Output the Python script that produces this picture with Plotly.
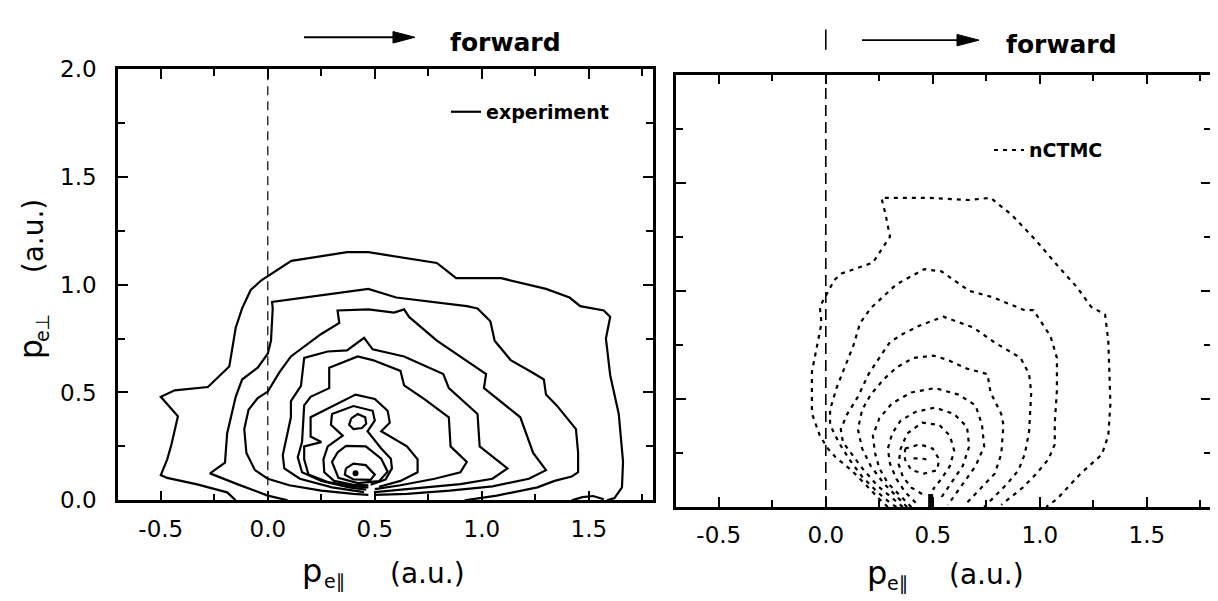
import plotly.graph_objects as go

# ---------------- axes / ticks ----------------
x_range = [-0.70, 1.80]
y_range = [0.0, 2.0]
x_tick_vals = [-0.5, 0.0, 0.5, 1.0, 1.5]
x_tick_text = ["-0.5", "0.0", "0.5", "1.0", "1.5"]
y_tick_vals = [0.0, 0.5, 1.0, 1.5, 2.0]
y_tick_text = ["0.0", "0.5", "1.0", "1.5", "2.0"]
forward_boundary = 0.0

# ---------------- experiment (left panel, solid contours) ----------------
exp_c1_x = [-0.15, -0.19, -0.33, -0.47, -0.50, -0.47, -0.45, -0.42, -0.50, -0.435, -0.28, -0.18, -0.15, -0.12,
            -0.08, -0.03, 0.11, 0.37, 0.47, 0.79, 0.88, 1.09, 1.30, 1.41, 1.46, 1.57, 1.60, 1.58, 1.60, 1.64,
            1.66, 1.655, 1.62, 1.585]
exp_c1_y = [0.0, 0.037, 0.074, 0.104, 0.117, 0.19, 0.26, 0.39, 0.48, 0.51, 0.525, 0.62, 0.80, 0.89,
            0.975, 1.02, 1.11, 1.15, 1.15, 1.10, 1.03, 1.03, 0.98, 0.94, 0.90, 0.88, 0.85, 0.75, 0.58, 0.40,
            0.18, 0.06, 0.01, 0.0]
exp_c2_x = [0.093, 0.0, -0.14, -0.27, -0.20, -0.19, -0.15, -0.12, -0.047, 0.0, 0.015, 0.023, 0.02, 0.35, 0.47,
            0.60, 0.83, 0.93, 0.98, 1.04, 1.06, 1.135, 1.24, 1.29, 1.30, 1.35, 1.44, 1.45, 1.45, 1.42,
            1.34, 1.26, 1.07, 0.92]
exp_c2_y = [0.0, 0.022, 0.074, 0.125, 0.175, 0.31, 0.48, 0.56, 0.615, 0.68, 0.74, 0.889, 0.92, 0.965, 0.98,
            0.94, 0.91, 0.90, 0.889, 0.83, 0.74, 0.65, 0.59, 0.56, 0.49, 0.44, 0.33, 0.22, 0.13, 0.11,
            0.09, 0.06, 0.022, 0.0]
exp_c3_x = [0.47, 0.40, 0.25, 0.10, 0.0, -0.06, -0.10, -0.11, -0.09, -0.047, 0.0, 0.054, 0.108, 0.248, 0.334,
            0.326, 0.47, 0.59, 0.637, 0.66, 0.79, 1.02, 1.01, 1.18, 1.24, 1.30, 1.22, 1.05, 0.85, 0.65, 0.50]
exp_c3_y = [0.025, 0.03, 0.045, 0.07, 0.10, 0.14, 0.22, 0.33, 0.42, 0.474, 0.504, 0.593, 0.667, 0.77, 0.822,
            0.88, 0.885, 0.87, 0.885, 0.85, 0.74, 0.585, 0.52, 0.385, 0.22, 0.14, 0.10, 0.065, 0.045, 0.03, 0.025]
exp_c4_x = [0.45, 0.30, 0.15, 0.077, 0.07, 0.108, 0.108, 0.155, 0.17, 0.28, 0.37, 0.45, 0.49, 0.637, 0.82,
            0.846, 0.98, 0.99, 1.12, 1.05, 0.90, 0.70, 0.50]
exp_c4_y = [0.038, 0.06, 0.10, 0.148, 0.21, 0.385, 0.46, 0.53, 0.66, 0.69, 0.695, 0.753, 0.70, 0.667, 0.585,
            0.52, 0.40, 0.25, 0.148, 0.10, 0.075, 0.055, 0.038]
exp_c5_x = [0.46, 0.38, 0.25, 0.16, 0.14, 0.16, 0.17, 0.20, 0.287, 0.287, 0.42, 0.49, 0.62, 0.637, 0.73,
            0.846, 0.854, 0.93, 0.90, 0.78, 0.62, 0.50]
exp_c5_y = [0.05, 0.06, 0.09, 0.13, 0.20, 0.27, 0.44, 0.48, 0.52, 0.615, 0.667, 0.65, 0.60, 0.533, 0.47,
            0.385, 0.25, 0.178, 0.13, 0.10, 0.07, 0.052]
exp_c6_x = [0.47, 0.40, 0.28, 0.19, 0.17, 0.17, 0.25, 0.20, 0.20, 0.31, 0.41, 0.50, 0.56, 0.57, 0.53,
            0.65, 0.70, 0.70, 0.62, 0.52]
exp_c6_y = [0.06, 0.065, 0.085, 0.12, 0.19, 0.25, 0.27, 0.296, 0.385, 0.44, 0.49, 0.47, 0.415, 0.36, 0.32,
            0.25, 0.19, 0.13, 0.09, 0.063]
exp_c7_x = [0.47, 0.40, 0.31, 0.264, 0.26, 0.28, 0.35, 0.295, 0.30, 0.40, 0.49, 0.50, 0.466, 0.53, 0.575,
            0.58, 0.55, 0.48]
exp_c7_y = [0.07, 0.072, 0.09, 0.13, 0.19, 0.25, 0.30, 0.35, 0.40, 0.437, 0.415, 0.37, 0.32, 0.24, 0.193,
            0.148, 0.096, 0.072]
exp_c8_x = [0.365, 0.458, 0.53, 0.56, 0.52, 0.42, 0.33, 0.30, 0.326, 0.365]
exp_c8_y = [0.252, 0.25, 0.193, 0.133, 0.089, 0.08, 0.104, 0.178, 0.222, 0.252]
exp_c9_x = [0.365, 0.40, 0.458, 0.50, 0.48, 0.40, 0.36, 0.365]
exp_c9_y = [0.148, 0.17, 0.163, 0.119, 0.095, 0.097, 0.119, 0.148]
exp_upper_x = [0.39, 0.42, 0.455, 0.46, 0.44, 0.40, 0.38, 0.39]
exp_upper_y = [0.38, 0.40, 0.385, 0.355, 0.335, 0.33, 0.35, 0.38]
exp_bump_x = [1.42, 1.47, 1.52, 1.57]
exp_bump_y = [0.0, 0.015, 0.02, 0.005]
exp_peak_x = [0.41]
exp_peak_y = [0.125]

# ---------------- nCTMC (right panel, dotted contours) ----------------
ctmc_c1_x = [0.29, 0.25, 0.19, 0.12, 0.046, 0.01, -0.028, -0.065, -0.065, -0.04, -0.02, -0.028, 0.04, 0.074,
             0.22, 0.30, 0.28, 0.26, 0.48, 0.667, 0.77, 0.87, 0.98, 1.08, 1.175, 1.24, 1.305, 1.32, 1.33, 1.32,
             1.29, 1.19, 1.08, 1.03]
ctmc_c1_y = [0.0, 0.037, 0.10, 0.17, 0.23, 0.27, 0.33, 0.434, 0.625, 0.75, 0.85, 0.926, 1.05, 1.08,
             1.13, 1.25, 1.35, 1.43, 1.43, 1.42, 1.43, 1.35, 1.235, 1.12, 1.015, 0.926, 0.89, 0.77, 0.478, 0.33,
             0.243, 0.154, 0.037, 0.0]
ctmc_c2_x = [0.33, 0.30, 0.24, 0.17, 0.11, 0.06, 0.02, 0.02, 0.05, 0.09, 0.13, 0.16, 0.21, 0.33, 0.46,
             0.54, 0.67, 0.78, 0.93, 0.97, 1.05, 1.08, 1.08, 1.07, 1.07, 1.04, 0.98, 0.92, 0.82]
ctmc_c2_y = [0.0, 0.02, 0.07, 0.14, 0.22, 0.30, 0.38, 0.45, 0.55, 0.65, 0.75, 0.85, 0.92, 1.03, 1.10,
             1.09, 1.0, 0.97, 0.91, 0.911, 0.79, 0.69, 0.54, 0.39, 0.29, 0.22, 0.15, 0.09, 0.01]
ctmc_c3_x = [0.36, 0.30, 0.24, 0.17, 0.11, 0.08, 0.07, 0.10, 0.15, 0.20, 0.25, 0.30, 0.36, 0.44, 0.55,
             0.69, 0.79, 0.91, 0.95, 0.96, 0.95, 0.93, 0.90, 0.85, 0.79, 0.74]
ctmc_c3_y = [0.0, 0.05, 0.10, 0.18, 0.26, 0.30, 0.36, 0.43, 0.51, 0.615, 0.69, 0.763, 0.80, 0.84, 0.88,
             0.83, 0.76, 0.69, 0.615, 0.53, 0.35, 0.245, 0.17, 0.11, 0.05, 0.0]
ctmc_c4_x = [0.38, 0.33, 0.27, 0.21, 0.17, 0.15, 0.17, 0.21, 0.27, 0.33, 0.41, 0.505, 0.57, 0.66, 0.755,
             0.77, 0.82, 0.83, 0.82, 0.79, 0.72, 0.66]
ctmc_c4_y = [0.0, 0.05, 0.11, 0.19, 0.27, 0.36, 0.45, 0.52, 0.59, 0.645, 0.69, 0.70, 0.68, 0.64, 0.615,
             0.53, 0.43, 0.38, 0.245, 0.155, 0.08, 0.02]
ctmc_c5_x = [0.40, 0.35, 0.29, 0.25, 0.23, 0.22, 0.25, 0.31, 0.40, 0.51, 0.62, 0.70, 0.73, 0.74, 0.70,
             0.65, 0.60, 0.57]
ctmc_c5_y = [0.0, 0.05, 0.11, 0.18, 0.25, 0.33, 0.41, 0.48, 0.53, 0.55, 0.52, 0.47, 0.38, 0.28, 0.19,
             0.12, 0.05, 0.01]
ctmc_c6_x = [0.42, 0.37, 0.33, 0.30, 0.29, 0.31, 0.35, 0.42, 0.51, 0.60, 0.66, 0.67, 0.64, 0.59, 0.55, 0.53]
ctmc_c6_y = [0.02, 0.07, 0.13, 0.20, 0.27, 0.34, 0.40, 0.44, 0.46, 0.43, 0.37, 0.28, 0.19, 0.12, 0.06, 0.03]
ctmc_c7_x = [0.45, 0.40, 0.36, 0.34, 0.35, 0.38, 0.45, 0.53, 0.58, 0.60, 0.58, 0.54, 0.50]
ctmc_c7_y = [0.06, 0.09, 0.14, 0.20, 0.27, 0.34, 0.39, 0.38, 0.33, 0.26, 0.19, 0.13, 0.08]
ctmc_c8_x = [0.37, 0.44, 0.50, 0.53, 0.52, 0.46, 0.40, 0.37, 0.37]
ctmc_c8_y = [0.27, 0.29, 0.27, 0.22, 0.17, 0.155, 0.17, 0.22, 0.27]
ctmc_c9_x = [0.41, 0.45, 0.49]
ctmc_c9_y = [0.225, 0.225, 0.215]
ctmc_spike_x = [0.49, 0.49]
ctmc_spike_y = [0.0, 0.06]

exp_contours = [(exp_c1_x, exp_c1_y), (exp_c2_x, exp_c2_y), (exp_c3_x, exp_c3_y), (exp_c4_x, exp_c4_y),
                (exp_c5_x, exp_c5_y), (exp_c6_x, exp_c6_y), (exp_c7_x, exp_c7_y), (exp_c8_x, exp_c8_y),
                (exp_c9_x, exp_c9_y), (exp_upper_x, exp_upper_y), (exp_bump_x, exp_bump_y)]
ctmc_contours = [(ctmc_c1_x, ctmc_c1_y), (ctmc_c2_x, ctmc_c2_y), (ctmc_c3_x, ctmc_c3_y), (ctmc_c4_x, ctmc_c4_y),
                 (ctmc_c5_x, ctmc_c5_y), (ctmc_c6_x, ctmc_c6_y), (ctmc_c7_x, ctmc_c7_y), (ctmc_c8_x, ctmc_c8_y),
                 (ctmc_c9_x, ctmc_c9_y)]

fig = go.Figure()

for i, (cx, cy) in enumerate(exp_contours):
    fig.add_trace(go.Scatter(x=cx, y=cy, mode="lines", xaxis="x", yaxis="y",
                             line=dict(color="black", width=2.2),
                             name="experiment", showlegend=(i == 0), legend="legend",
                             hoverinfo="skip"))
fig.add_trace(go.Scatter(x=exp_peak_x, y=exp_peak_y, mode="markers", xaxis="x", yaxis="y",
                         marker=dict(color="black", size=6), showlegend=False, hoverinfo="skip"))

for i, (cx, cy) in enumerate(ctmc_contours):
    fig.add_trace(go.Scatter(x=cx, y=cy, mode="lines", xaxis="x2", yaxis="y2",
                             line=dict(color="black", width=2.2, dash="4px,5px"),
                             name="nCTMC", showlegend=(i == 0), legend="legend2",
                             hoverinfo="skip"))
fig.add_trace(go.Scatter(x=ctmc_spike_x, y=ctmc_spike_y, mode="lines", xaxis="x2", yaxis="y2",
                         line=dict(color="black", width=5), showlegend=False, hoverinfo="skip"))

tick_font = dict(family="DejaVu Sans", size=23, color="black")


def make_axis(domain, anchor, labels, tickvals, ticktext, rng, standoff):
    return dict(domain=domain, anchor=anchor, range=rng, showgrid=False, zeroline=False,
                showline=True, linecolor="black", linewidth=2.5, mirror="allticks",
                ticks="inside", ticklen=10, tickwidth=2, tickcolor="black",
                tickmode="array", tickvals=tickvals, ticktext=ticktext,
                showticklabels=labels, tickfont=tick_font, ticklabelstandoff=standoff,
                minor=dict(ticks="inside", ticklen=7, tickwidth=1.6, tickcolor="black",
                           tickmode="linear", tick0=0, dtick=0.25))


W, H = 1218, 601
x1_dom = [110 / W, 645 / W]
x2_dom = [668 / W, 1203 / W]
y1_dom = [1 - 501 / H, 1 - 50 / H]
y2_dom = [1 - 508 / H, 1 - 56 / H]

legend_font = dict(family="DejaVu Sans", size=19, color="black", weight=700)
fig.update_layout(
    width=W, height=H, margin=dict(l=0, r=0, t=0, b=0),
    paper_bgcolor="white", plot_bgcolor="white",
    xaxis=make_axis(x1_dom, "y", True, x_tick_vals, x_tick_text, x_range, 6),
    yaxis=make_axis(y1_dom, "x", True, y_tick_vals, y_tick_text, y_range, 14),
    xaxis2=make_axis(x2_dom, "y2", True, x_tick_vals, x_tick_text, x_range, 6),
    yaxis2=make_axis(y2_dom, "x2", False, y_tick_vals, y_tick_text, y_range, 14),
    legend=dict(x=438 / W, y=1 - 95 / H, xanchor="left", yanchor="middle",
                bgcolor="rgba(0,0,0,0)", font=legend_font),
    legend2=dict(x=981 / W, y=1 - 135 / H, xanchor="left", yanchor="middle",
                 bgcolor="rgba(0,0,0,0)", font=legend_font),
    showlegend=True,
)


def paper_x(dom, value):
    return dom[0] + (value - x_range[0]) / (x_range[1] - x_range[0]) * (dom[1] - dom[0])


# dashed "forward" boundary lines at p_e|| = 0
fig.add_shape(type="line", xref="x", yref="y", x0=forward_boundary, x1=forward_boundary,
              y0=y_range[0], y1=y_range[1], line=dict(color="black", width=1.2, dash="9px,6px"))
fig.add_shape(type="line", xref="x2", yref="y2", x0=forward_boundary, x1=forward_boundary,
              y0=y_range[0], y1=y_range[1], line=dict(color="black", width=1.6, dash="11px,6px"))
fig.add_shape(type="line", xref="paper", yref="paper", x0=paper_x(x2_dom, forward_boundary),
              x1=paper_x(x2_dom, forward_boundary), y0=1 - 30 / H, y1=1 - 9 / H,
              line=dict(color="black", width=1.6))


# "forward" arrows (shaft + filled head), positioned in page pixels
def arrow(x_tail, x_tip, y):
    head_len, half_h = 22, 6
    fig.add_shape(type="line", xref="paper", yref="paper", x0=x_tail / W, x1=(x_tip - head_len + 2) / W,
                  y0=1 - y / H, y1=1 - y / H, line=dict(color="black", width=1.8))
    path = "M {:.5f},{:.5f} L {:.5f},{:.5f} L {:.5f},{:.5f} Z".format(
        (x_tip - head_len) / W, 1 - (y - half_h) / H, x_tip / W, 1 - y / H, (x_tip - head_len) / W,
        1 - (y + half_h) / H)
    fig.add_shape(type="path", xref="paper", yref="paper", path=path,
                  fillcolor="black", line=dict(color="black", width=1))


arrow(296, 407, 17)
arrow(854, 971, 20)

big_font = dict(family="DejaVu Sans", size=32, color="black")
sub_font = dict(family="DejaVu Sans", size=19, color="black")
unit_font = dict(family="DejaVu Sans", size=28, color="black")
forward_font = dict(family="DejaVu Sans", size=25, color="black", weight=700)


def label(text, px, py, font, angle=0):
    return dict(text=text, x=px / W, y=1 - py / H, xref="paper", yref="paper", showarrow=False,
                font=font, xanchor="center", yanchor="middle", textangle=angle)


annotations = [
    # x-axis titles: p_e|| (a.u.)
    label("p", 304, 575, big_font), label("e\u2225", 326, 586, sub_font), label("(a.u.)", 419, 577, unit_font),
    label("p", 869, 577, big_font), label("e\u2225", 889, 588, sub_font), label("(a.u.)", 978, 579, unit_font),
    # y-axis title: p_e-perp (a.u.)
    label("p", 23, 343, big_font, -90), label("e\u22a5", 34, 321, sub_font, -90),
    label("(a.u.)", 25, 225, unit_font, -90),
    # forward markers
    label("forward", 497, 22, forward_font), label("forward", 1053, 25, forward_font),
]
fig.update_layout(annotations=annotations)

fig.write_html("out.html")
